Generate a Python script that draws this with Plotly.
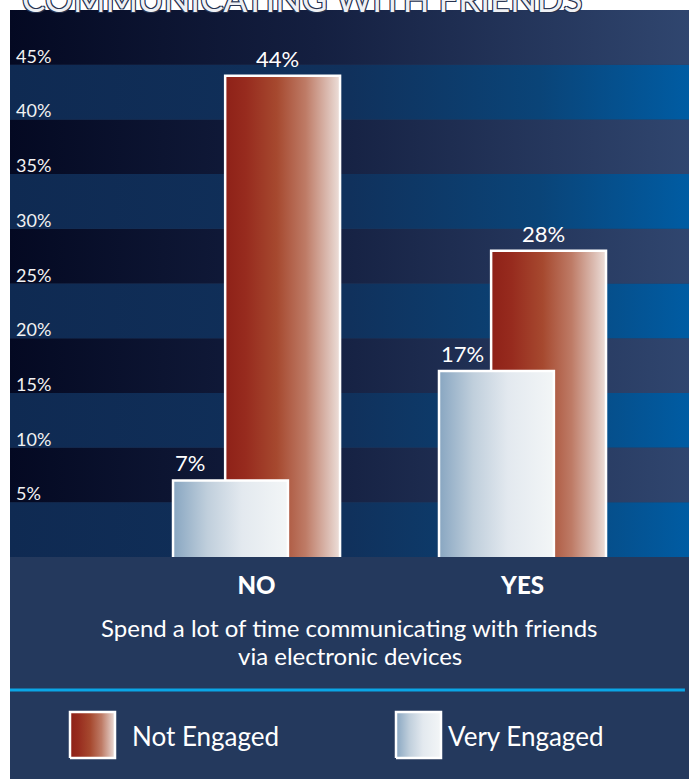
import plotly.graph_objects as go

# ---- data -------------------------------------------------------------
groups = ["NO", "YES"]
not_engaged = [44, 28]
very_engaged = [7, 17]
y_ticks = [5, 10, 15, 20, 25, 30, 35, 40, 45]
y_tick_labels = [f"{v}%" for v in y_ticks]
series_names = ["Not Engaged", "Very Engaged"]
title_text = "COMMUNICATING WITH FRIENDS"
caption_lines = ["Spend a lot of time communicating with friends", "via electronic devices"]

# ---- styling ------------------------------------------------------------
FONT = "Lato"
W, H = 689, 779
PLOT_BOTTOM_FRAC = 222 / 769           # main plot sits above the caption band
X_RANGE = [-0.927, 1.626]
Y_RANGE = [0, 50]
BAR_W = 0.432
SHIFT = 0.098

RED_SCALE = [[0, "#8e2118"], [0.18, "#972b1e"], [0.45, "#a6492f"],
             [0.7, "#be7b66"], [0.9, "#dcbdb3"], [1, "#ede0db"]]
LIGHT_SCALE = [[0, "#88a6c1"], [0.3, "#c0cfdc"], [0.6, "#e3e9ef"], [1, "#f3f6f7"]]
DARK_BAND = [[0, "#040922"], [0.45, "#141f40"], [1, "#30466f"]]
BLUE_BAND = [[0, "#0f2a52"], [0.5, "#10315c"], [0.78, "#0a4478"], [1, "#005ca3"]]

fig = go.Figure()

# alternating horizontal bands behind the bars
for i in range(int(Y_RANGE[1] // 5)):
    lo, hi = i * 5, i * 5 + 5
    scale = BLUE_BAND if i % 2 == 0 else DARK_BAND
    fig.add_trace(go.Scatter(
        x=[X_RANGE[0], X_RANGE[1], X_RANGE[1], X_RANGE[0], X_RANGE[0]],
        y=[lo, lo, hi, hi, lo],
        mode="lines", line=dict(width=0), fill="toself",
        fillgradient=dict(type="horizontal", colorscale=scale),
        hoverinfo="skip", showlegend=False,
    ))


def bar(xc, value, scale):
    x0, x1 = xc - BAR_W / 2, xc + BAR_W / 2
    return go.Scatter(
        x=[x0, x0, x1, x1], y=[0, value, value, 0],
        mode="lines", line=dict(color="white", width=2.5),
        fill="toself", fillgradient=dict(type="horizontal", colorscale=scale),
        hoverinfo="skip", showlegend=False,
    )


positions = list(range(len(groups)))
# red bars sit behind, light bars in front
for xc, v in zip(positions, not_engaged):
    fig.add_trace(bar(xc + SHIFT, v, RED_SCALE))
for xc, v in zip(positions, very_engaged):
    fig.add_trace(bar(xc - SHIFT, v, LIGHT_SCALE))

annotations = []
for xc, v in zip(positions, not_engaged):
    annotations.append(dict(x=xc + SHIFT, y=v, xref="x", yref="y", text=f"{v}%",
                            showarrow=False, yanchor="bottom", yshift=2, xshift=-5,
                            font=dict(family=FONT, size=22, color="white")))
for xc, v in zip(positions, very_engaged):
    annotations.append(dict(x=xc - SHIFT - BAR_W / 2, y=v, xref="x", yref="y",
                            text=f"{v}%", showarrow=False, xanchor="left",
                            yanchor="bottom", yshift=2,
                            font=dict(family=FONT, size=22, color="white")))

# percentage labels sitting just above each band edge
for v, lab in zip(y_ticks, y_tick_labels):
    annotations.append(dict(x=4 / 679, y=v, xref="paper", yref="y", text=lab,
                            showarrow=False, xanchor="left", yanchor="bottom",
                            yshift=-4, font=dict(family=FONT, size=18, color="#f2f2f2")))

# caption under the group labels
for yy, line in zip([152, 124], caption_lines):
    annotations.append(dict(x=0.5, y=yy, xref="paper", yref="y2", text=line,
                            showarrow=False, yanchor="middle", align="center",
                            font=dict(family=FONT, size=24, color="white")))

# title running off the top edge
annotations.append(dict(x=10 / 679, y=1, xref="paper", yref="paper", text=title_text,
                        showarrow=False, xanchor="left", yanchor="bottom", yshift=-11,
                        font=dict(family=FONT, size=35, color="#eef0f4",
                                  shadow="1px 1px 0 #26324f, -1px -1px 0 #26324f, "
                                         "1px -1px 0 #26324f, -1px 1px 0 #26324f")))

# custom legend swatches in the bottom band
legend_items = [(60, 60, series_names[0], RED_SCALE), (386, 50, series_names[1], LIGHT_SCALE)]
for lx, text_off, name, scale in legend_items:
    fig.add_trace(go.Scatter(
        x=[lx, lx + 45, lx + 45, lx, lx], y=[21, 21, 67, 67, 21],
        xaxis="x2", yaxis="y2", mode="lines",
        line=dict(color="white", width=2.5), fill="toself",
        fillgradient=dict(type="horizontal", colorscale=scale),
        hoverinfo="skip", showlegend=False,
    ))
    annotations.append(dict(x=lx + text_off, y=43, xref="x2", yref="y2", text=name,
                            showarrow=False, xanchor="left", yanchor="middle",
                            font=dict(family=FONT, size=26, color="white")))

shapes = [
    dict(type="rect", xref="paper", yref="paper", x0=0, x1=1, y0=0,
         y1=PLOT_BOTTOM_FRAC, fillcolor="#24395d", line=dict(width=0), layer="below"),
    dict(type="line", xref="paper", yref="y2", x0=0, x1=0.994, y0=89, y1=89,
         line=dict(color="#0aa6e6", width=3)),
]

fig.update_layout(
    width=W, height=H,
    margin=dict(l=10, r=0, t=10, b=0),
    paper_bgcolor="white", plot_bgcolor="#24395d",
    font=dict(family=FONT, color="white"),
    showlegend=False,
    annotations=annotations,
    shapes=shapes,
    xaxis=dict(range=X_RANGE, domain=[0, 1], tickvals=positions, ticktext=groups,
               showgrid=False, zeroline=False, showline=False, ticks="",
               ticklabelstandoff=12,
               tickfont=dict(family=FONT, size=24, color="white", weight=900),
               fixedrange=True),
    yaxis=dict(range=Y_RANGE, domain=[PLOT_BOTTOM_FRAC, 1], showticklabels=False,
               showgrid=False, zeroline=False, showline=False, ticks="",
               fixedrange=True),
    xaxis2=dict(range=[0, 679], domain=[0, 1], anchor="y2", visible=False,
                fixedrange=True),
    yaxis2=dict(range=[0, 222], domain=[0, PLOT_BOTTOM_FRAC], anchor="x2",
                visible=False, fixedrange=True),
)

fig.write_html("out.html")
